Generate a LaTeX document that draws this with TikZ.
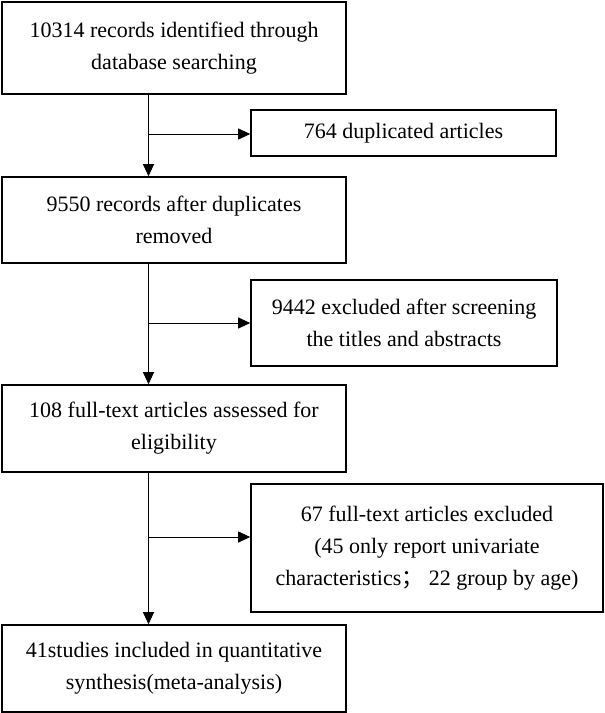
\documentclass[tikz,border=0pt]{standalone}
\usepackage{fontspec}
\setmainfont{Liberation Serif}
\newfontfamily\cjk{Noto Sans CJK SC}
\usetikzlibrary{positioning,arrows.meta}
\tikzset{
  stagebox/.style={rectangle,draw,line width=1.6pt,minimum width=344pt,align=center,inner sep=0pt},
  sidebox/.style={rectangle,draw,line width=1.6pt,align=center,inner sep=0pt},
  arrow/.style={line width=0.9pt,-{Triangle[length=12pt,width=11pt]}}
}
\begin{document}
\begin{tikzpicture}[x=1pt,y=-1pt,font=\fontsize{22}{32}\selectfont]
	\useasboundingbox (0,0) rectangle (605,713);
	\node[stagebox,minimum height=92pt] (rec1) at (174,48) {10314 records identified through\\database searching};
	\node[stagebox,minimum height=86pt] (rec2) at (174,220) {9550 records after duplicates\\removed};
	\node[stagebox,minimum height=87pt] (rec3) at (174,428.5) {108 full-text articles assessed for\\eligibility};
	\node[stagebox,minimum height=87pt] (rec4) at (174,668.5) {41studies included in quantitative\\synthesis(meta-analysis)};
	\node[sidebox,minimum width=305pt,minimum height=46pt] (dup) at (403.5,133) {764 duplicated articles};
	\node[sidebox,minimum width=306pt,minimum height=86pt] (scr) at (404,323) {9442 excluded after screening\\the titles and abstracts};
	\node[sidebox,minimum width=352pt,minimum height=128pt] (ft) at (427,548) {67 full-text articles excluded\\(45 only report univariate\\characteristics{\cjk ；}\ 22 group by age)};
	\coordinate (j1) at (148.5,134);
	\coordinate (j2) at (148.5,323);
	\coordinate (j3) at (148.5,537);
	\draw[arrow] (rec1.south -| j1)--(rec2.north -| j1);
	\draw[arrow] (rec2.south -| j2)--(rec3.north -| j2);
	\draw[arrow] (rec3.south -| j3)--(rec4.north -| j3);
	\draw[arrow] (j1)--(j1 -| dup.west);
	\draw[arrow] (j2)--(j2 -| scr.west);
	\draw[arrow] (j3)--(j3 -| ft.west);
\end{tikzpicture}
\end{document}
